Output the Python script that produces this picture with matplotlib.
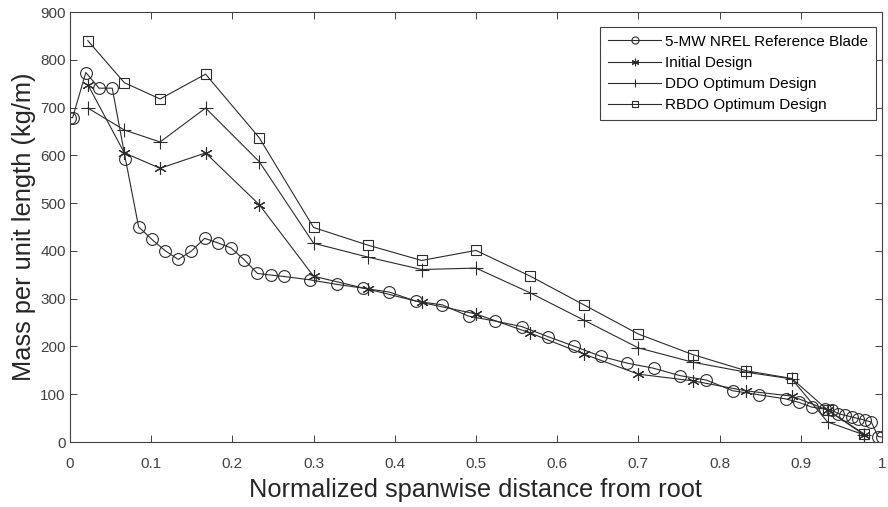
import matplotlib
matplotlib.use('Agg')
from matplotlib import pyplot as plt

plt.rcParams['font.family'] = ['Liberation Sans', 'DejaVu Sans']

# NREL 5-MW reference blade, distributed mass
ref_x = [0.0, 0.00325, 0.01951, 0.03577, 0.05203, 0.06829, 0.08455, 0.10081,
         0.11707, 0.13335, 0.14959, 0.16585, 0.18211, 0.19837, 0.21465, 0.23089,
         0.24715, 0.26341, 0.29595, 0.32846, 0.36098, 0.39350, 0.42602, 0.45855,
         0.49106, 0.52358, 0.55610, 0.58862, 0.62115, 0.65366, 0.68618, 0.71870,
         0.75122, 0.78376, 0.81626, 0.84878, 0.88130, 0.89756, 0.91382, 0.93008,
         0.93821, 0.94636, 0.95447, 0.96260, 0.97073, 0.97886, 0.98699, 0.99512, 1.0]
ref_mass = [678.9, 678.9, 773.4, 740.6, 740.6, 592.5, 450.3, 424.1, 400.6, 382.1,
            399.7, 426.3, 416.8, 406.2, 381.4, 352.8, 349.5, 346.5, 339.3, 330.0,
            322.0, 313.8, 294.7, 287.1, 263.3, 253.2, 241.7, 220.6, 200.3, 179.4,
            165.1, 154.4, 138.9, 129.6, 107.3, 98.8, 90.2, 83.0, 72.9, 68.8,
            66.3, 59.3, 55.9, 52.5, 49.1, 45.8, 41.7, 11.5, 10.3]

# design stations
des_x = [0.022, 0.067, 0.111, 0.167, 0.233, 0.3, 0.367, 0.433, 0.5, 0.567,
         0.633, 0.7, 0.767, 0.833, 0.889, 0.933, 0.978]
initial_mass = [748, 605, 573, 605, 497, 347, 320, 292, 268, 228,
                184, 142, 128, 107, 96, 67, 15]
ddo_mass = [699, 653, 628, 699, 587, 416, 387, 361, 364, 312,
            255, 197, 167, 146, 132, 42, 15]
rbdo_mass = [840, 752, 718, 770, 637, 449, 412, 380, 401, 347,
             287, 226, 183, 149, 133, 67, 17]

line_col = '#2b2b2b'
fig = plt.figure(figsize=(8.88, 5.07), dpi=100)
ax = fig.add_axes([0.0788, 0.1282, 0.9144, 0.8481])

ax.plot(ref_x, ref_mass, color=line_col, lw=0.8, marker='o', ms=8.5,
        mfc='none', mec=line_col, mew=0.8, label='5-MW NREL Reference Blade')
ax.plot(des_x, initial_mass, color=line_col, lw=0.8, marker=(6, 2, 0), ms=9,
        mec=line_col, mew=0.8, label='Initial Design')
ax.plot(des_x, ddo_mass, color=line_col, lw=0.8, marker='+', ms=10,
        mec=line_col, mew=0.8, label='DDO Optimum Design')
ax.plot(des_x, rbdo_mass, color=line_col, lw=0.8, marker='s', ms=7,
        mfc='none', mec=line_col, mew=0.8, label='RBDO Optimum Design')

ax.set_xlim(0, 1)
ax.set_ylim(0, 900)
ax.set_xticks([i / 10 for i in range(11)])
ax.set_xticklabels(['0', '0.1', '0.2', '0.3', '0.4', '0.5', '0.6', '0.7', '0.8', '0.9', '1'])
ax.set_yticks(range(0, 901, 100))
ax.tick_params(direction='in', top=True, right=True, length=5, width=0.7,
               labelsize=11, colors='#404040')
ax.tick_params(axis='x', pad=11)
ax.tick_params(axis='y', pad=3)
for s in ax.spines.values():
    s.set_color('#404040')
    s.set_linewidth(0.8)

ax.set_xlabel('Normalized spanwise distance from root', fontsize=18.3,
              color='#262626', labelpad=5)
ax.set_ylabel('Mass per unit length (kg/m)', fontsize=18.3, color='#262626',
              labelpad=3)

leg = ax.legend(loc='upper right', bbox_to_anchor=(0.9926, 0.965), fontsize=11,
                fancybox=False, framealpha=1, edgecolor='#404040',
                handlelength=3.5, handletextpad=0.25, borderpad=0.5,
                labelspacing=0.47, borderaxespad=0, markerscale=0.6)
leg.get_frame().set_linewidth(0.8)

plt.savefig('out.png', dpi=100)
